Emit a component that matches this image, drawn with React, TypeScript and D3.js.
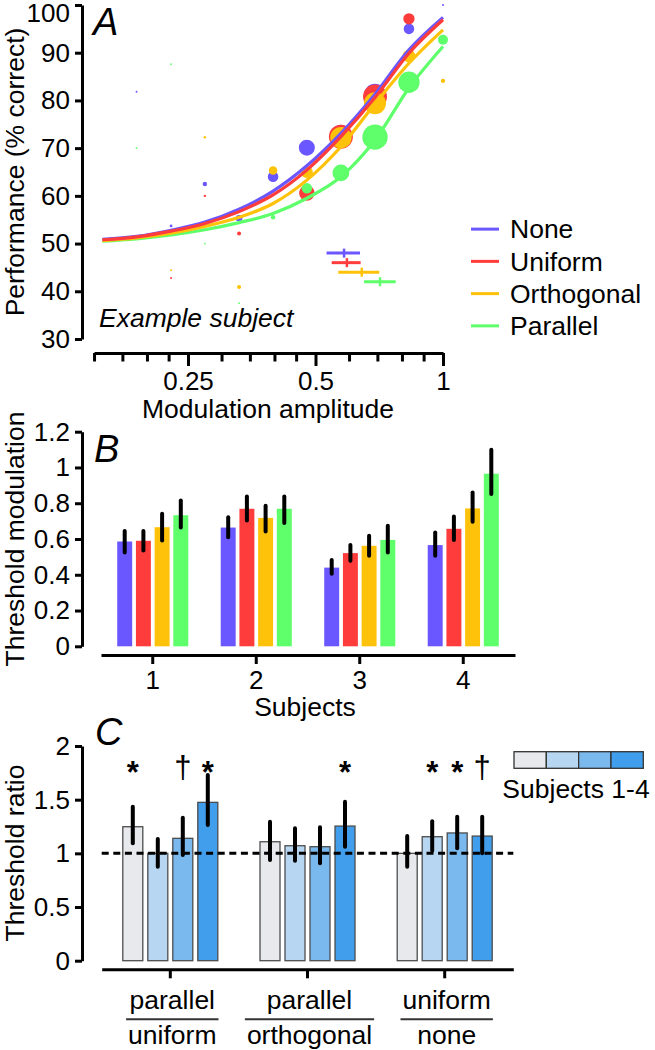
import React, { useEffect, useRef } from "react";
import * as d3 from "d3";

const FONT = "'Liberation Sans', Arial, Helvetica, sans-serif";

// ---- panel A: example subject, % correct vs modulation amplitude ----
const conditions = ["None", "Uniform", "Orthogonal", "Parallel"];
const condColors = ["#6b57ff", "#ff3c3c", "#ffc20a", "#5eff6a"];

const amplitudes = [0.189, 0.228, 0.274, 0.33, 0.397, 0.477, 0.574, 0.691, 0.831, 1.0];
const pctNone = [81.8, 53.7, 62.5, 55.3, 64.0, 70.1, 72.8, 81.2, 95.0, 100];
const pctUniform = [null, 42.8, 60.0, 52.1, null, 60.6, 72.4, 80.8, 97.1, null];
const pctOrthogonal = [null, 44.4, 72.3, 40.9, 65.3, 65.0, 72.2, 79.4, 89.3, 84.1];
const pctParallel = [70.0, 87.6, 50.0, 37.5, 55.5, 61.6, 64.8, 72.3, 83.8, 92.7];
// trials per level (circle area)
const trialsNone = [1, 2, 5, 11, 28, 64, 100, 121, 28, 1];
const trialsUniform = [0, 1, 1.5, 4, 0, 60, 144, 144, 32, 0];
const trialsOrthogonal = [0, 1, 1.5, 4, 18, 36, 114, 121, 40, 5];
const trialsParallel = [0.6, 0.6, 0.4, 0.5, 5, 28, 70, 160, 114, 25];

// fitted psychometric functions
const fitAmps = [0.157, 0.189, 0.228, 0.274, 0.33, 0.397, 0.477, 0.574, 0.691, 0.831, 1.0];
const fitNone = [50.9, 51.5, 52.8, 54.5, 57.2, 61.0, 66.3, 73.1, 81.3, 90.6, 97.4];
const fitUniform = [50.8, 51.4, 52.6, 54.2, 56.7, 60.2, 65.4, 72.4, 80.6, 89.9, 96.9];
const fitOrthogonal = [50.6, 51.2, 52.2, 53.6, 55.5, 58.4, 63.3, 70.3, 79.3, 87.8, 94.8];
const fitParallel = [50.5, 51.0, 51.8, 52.9, 54.4, 56.3, 59.5, 64.0, 71.7, 82.6, 91.3];

// threshold estimates with CI (drawn at a fixed % level)
const thrLevel = [48, 46, 44, 42];
const thrMid = [0.584, 0.593, 0.643, 0.71];
const thrLo = [0.531, 0.546, 0.566, 0.651];
const thrHi = [0.637, 0.639, 0.707, 0.773];

const xTicksA = [0.15, 0.175, 0.2, 0.225, 0.25, 0.3, 0.35, 0.4, 0.45, 0.5, 0.6, 0.7, 0.8, 0.9, 1];
const xLabelsA = [0.25, 0.5, 1];
const yTicksA = [30, 40, 50, 60, 70, 80, 90, 100];

// ---- panel B: threshold modulation per subject ----
const subjects = ["1", "2", "3", "4"];
const threshNone = [0.586, 0.664, 0.44, 0.566];
const threshUniform = [0.59, 0.769, 0.521, 0.657];
const threshOrthogonal = [0.666, 0.718, 0.562, 0.771];
const threshParallel = [0.733, 0.769, 0.595, 0.965];
const ciNone = [[0.524, 0.645], [0.61, 0.722], [0.405, 0.483], [0.506, 0.636]];
const ciUniform = [[0.535, 0.645], [0.703, 0.838], [0.479, 0.567], [0.595, 0.726]];
const ciOrthogonal = [[0.591, 0.741], [0.642, 0.786], [0.506, 0.618], [0.696, 0.86]];
const ciParallel = [[0.664, 0.815], [0.689, 0.838], [0.524, 0.674], [0.851, 1.099]];
const yTicksB = [0, 0.2, 0.4, 0.6, 0.8, 1, 1.2];

// ---- panel C: threshold ratios ----
const ratioNames = ["parallel/uniform", "parallel/orthogonal", "uniform/none"];
const subjectColors = ["#e8e9ec", "#b7d6f2", "#7ab9ee", "#419eec"];
const ratioS1 = [1.248, 1.108, 1.0];
const ratioS2 = [1.0, 1.071, 1.155];
const ratioS3 = [1.14, 1.062, 1.19];
const ratioS4 = [1.475, 1.254, 1.161];
const ratioCiS1 = [[1.093, 1.434], [0.938, 1.294], [0.875, 1.161]];
const ratioCiS2 = [[0.875, 1.133], [0.931, 1.233], [1.024, 1.3]];
const ratioCiS3 = [[0.984, 1.331], [0.907, 1.242], [1.047, 1.341]];
const ratioCiS4 = [[1.264, 1.729], [1.062, 1.48], [1.0, 1.341]];
const signifS1 = ["*", "", ""];
const signifS2 = ["", "", "*"];
const signifS3 = ["\u2020", "", "*"];
const signifS4 = ["*", "*", "\u2020"];
const yTicksC = [0, 0.5, 1, 1.5, 2];

export default function App() {
  const ref = useRef<SVGSVGElement>(null);

  useEffect(() => {
    const svg = d3.select(ref.current);
    svg.selectAll("*").remove();
    svg.attr("font-family", FONT);

    const styleAxis = (g: any) => {
      g.attr("font-family", FONT).attr("font-size", 26);
      g.select(".domain").attr("stroke", "#000").attr("stroke-width", 3);
      g.selectAll(".tick line").attr("stroke", "#000").attr("stroke-width", 3);
      g.selectAll(".tick text").attr("fill", "#000");
    };
    const yTitle = (text: string, cy: number) =>
      svg.append("text").attr("transform", `translate(23.5,${cy}) rotate(-90)`)
        .attr("text-anchor", "middle").attr("font-size", 26.5).text(text);
    const panelLetter = (text: string, x: number, y: number) =>
      svg.append("text").attr("x", x).attr("y", y).attr("font-size", 38)
        .attr("font-style", "italic").text(text);

    // ================= Panel A =================
    const pctByCond = [pctNone, pctUniform, pctOrthogonal, pctParallel];
    const trialsByCond = [trialsNone, trialsUniform, trialsOrthogonal, trialsParallel];
    const fitByCond = [fitNone, fitUniform, fitOrthogonal, fitParallel];

    const xA = d3.scaleLog().domain([0.25, 1]).range([188, 443]);
    const xAxisA = xA.copy().domain([0.15, 1]).range([xA(0.15), xA(1)]);
    const yA = d3.scaleLinear().domain([30, 100]).range([339, 5]);
    const rA = d3.scaleSqrt().domain([0, 100]).range([0, 10]);

    const gYA = svg.append("g").attr("transform", "translate(82,0)")
      .call(d3.axisLeft(yA).tickValues(yTicksA).tickSize(7).tickSizeOuter(0).tickPadding(5));
    styleAxis(gYA);
    gYA.selectAll(".tick text").attr("y", (d: any) => (d === 100 ? 8 : 0));

    const gXA = svg.append("g").attr("transform", "translate(0,353)")
      .call(d3.axisBottom(xAxisA).tickValues(xTicksA).tickSize(13).tickSizeOuter(0).tickPadding(5.5)
        .tickFormat((d: any) => (xLabelsA.includes(d) ? String(d) : "")));
    styleAxis(gXA);
    gXA.selectAll(".tick line").attr("y2", (d: any) => (xLabelsA.includes(d) ? 13 : 8.5));

    svg.append("text").attr("x", 268).attr("y", 418).attr("text-anchor", "middle")
      .attr("font-size", 26.5).text("Modulation amplitude");
    yTitle("Performance (% correct)", 172);
    panelLetter("A", 93, 35);
    svg.append("text").attr("x", 99).attr("y", 327).attr("font-size", 26.5)
      .attr("font-style", "italic").text("Example subject");

    const gPts = svg.append("g");
    conditions.forEach((c, ci) => {
      const pts = amplitudes
        .map((a, i) => ({ a, p: pctByCond[ci][i], n: trialsByCond[ci][i] }))
        .filter((d) => d.p != null && d.n > 0);
      gPts.selectAll(null).data(pts).join("circle")
        .attr("cx", (d) => xA(d.a))
        .attr("cy", (d) => yA(d.p as number))
        .attr("r", (d) => Math.max(rA(d.n), 0.9))
        .attr("fill", condColors[ci]);
    });

    const line = d3.line<number>()
      .x((d, i) => xA(fitAmps[i]))
      .y((d) => yA(d))
      .curve(d3.curveMonotoneX);
    [3, 2, 0, 1].forEach((ci) => {
      svg.append("path").attr("d", line(fitByCond[ci]))
        .attr("fill", "none").attr("stroke", condColors[ci]).attr("stroke-width", 3.2);
    });

    // threshold bars
    const gThr = svg.append("g");
    conditions.forEach((c, ci) => {
      const y = yA(thrLevel[ci]);
      gThr.append("line").attr("x1", xA(thrLo[ci])).attr("x2", xA(thrHi[ci]))
        .attr("y1", y).attr("y2", y).attr("stroke", condColors[ci]).attr("stroke-width", 3);
      gThr.append("line").attr("x1", xA(thrMid[ci])).attr("x2", xA(thrMid[ci]))
        .attr("y1", y - 4.5).attr("y2", y + 4.5).attr("stroke", condColors[ci]).attr("stroke-width", 2.5);
    });

    // legend
    const legY = d3.scaleBand().domain(conditions).range([213, 342]);
    conditions.forEach((c, ci) => {
      const y = (legY(c) as number) + legY.bandwidth() / 2;
      svg.append("line").attr("x1", 471).attr("x2", 499).attr("y1", y).attr("y2", y)
        .attr("stroke", condColors[ci]).attr("stroke-width", 3);
      svg.append("text").attr("x", 510).attr("y", y).attr("dy", "0.35em")
        .attr("font-size", 26.5).text(c);
    });

    // ================= Panel B =================
    const threshByCond = [threshNone, threshUniform, threshOrthogonal, threshParallel];
    const ciByCond = [ciNone, ciUniform, ciOrthogonal, ciParallel];
    const xB = d3.scaleBand().domain(subjects).range([101, 515]);
    const innerB = d3.scaleBand().domain(conditions).range([0, 74.8]).paddingInner(0.2).paddingOuter(0.1);
    const yB = d3.scaleLinear().domain([0, 1.2]).range([646.3, 431.7]);

    const gYB = svg.append("g").attr("transform", "translate(82,0)")
      .call(d3.axisLeft(yB).tickValues(yTicksB).tickSize(7).tickSizeOuter(0).tickPadding(5)
        .tickFormat((d: any) => String(d)));
    styleAxis(gYB);
    const gXB = svg.append("g").attr("transform", "translate(0,655)")
      .call(d3.axisBottom(xB).tickSize(9).tickSizeOuter(0).tickPadding(6.5));
    styleAxis(gXB);

    subjects.forEach((s, si) => {
      const x0 = (xB(s) as number) + (xB.bandwidth() - 74.8) / 2;
      conditions.forEach((c, ci) => {
        const x = x0 + (innerB(c) as number);
        const v = threshByCond[ci][si];
        svg.append("rect").attr("x", x).attr("width", innerB.bandwidth())
          .attr("y", yB(v)).attr("height", yB(0) - yB(v)).attr("fill", condColors[ci]);
        const [lo, hi] = ciByCond[ci][si];
        svg.append("line").attr("x1", x + innerB.bandwidth() / 2).attr("x2", x + innerB.bandwidth() / 2)
          .attr("y1", yB(lo)).attr("y2", yB(hi)).attr("stroke", "#000").attr("stroke-width", 4)
          .attr("stroke-linecap", "round");
      });
    });
    svg.append("text").attr("x", 305).attr("y", 715.5).attr("text-anchor", "middle")
      .attr("font-size", 26.5).text("Subjects");
    yTitle("Threshold modulation", 539);
    panelLetter("B", 94, 461.5);

    // ================= Panel C =================
    const ratiosBySubj = [ratioS1, ratioS2, ratioS3, ratioS4];
    const ratioCiBySubj = [ratioCiS1, ratioCiS2, ratioCiS3, ratioCiS4];
    const signifBySubj = [signifS1, signifS2, signifS3, signifS4];
    const xC = d3.scaleBand().domain(ratioNames).range([101.7, 513.3]);
    const innerC = d3.scaleBand().domain(subjects).range([0, 100]).paddingInner(0.2).paddingOuter(0.1);
    const yC = d3.scaleLinear().domain([0, 2]).range([960.7, 746]);

    const gYC = svg.append("g").attr("transform", "translate(82,0)")
      .call(d3.axisLeft(yC).tickValues(yTicksC).tickSize(7).tickSizeOuter(0).tickPadding(5)
        .tickFormat((d: any) => String(d)));
    styleAxis(gYC);
    const gXC = svg.append("g").attr("transform", "translate(0,969.3)")
      .call(d3.axisBottom(xC).tickSize(9).tickSizeOuter(0).tickFormat(() => ""));
    styleAxis(gXC);

    ratioNames.forEach((r, gi) => {
      const x0 = (xC(r) as number) + (xC.bandwidth() - 100) / 2;
      subjects.forEach((s, si) => {
        const x = x0 + (innerC(s) as number);
        const v = ratiosBySubj[si][gi];
        svg.append("rect").attr("x", x).attr("width", innerC.bandwidth())
          .attr("y", yC(v)).attr("height", yC(0) - yC(v)).attr("fill", subjectColors[si])
          .attr("stroke", "#4d4d4d").attr("stroke-width", 1.3);
      });
    });
    // reference line at ratio 1
    svg.append("line").attr("x1", 101.7).attr("x2", 513.3).attr("y1", yC(1)).attr("y2", yC(1))
      .attr("stroke", "#000").attr("stroke-width", 3).attr("stroke-dasharray", "7,4.6");
    ratioNames.forEach((r, gi) => {
      const x0 = (xC(r) as number) + (xC.bandwidth() - 100) / 2;
      subjects.forEach((s, si) => {
        const xm = x0 + (innerC(s) as number) + innerC.bandwidth() / 2;
        const [lo, hi] = ratioCiBySubj[si][gi];
        svg.append("line").attr("x1", xm).attr("x2", xm).attr("y1", yC(lo)).attr("y2", yC(hi))
          .attr("stroke", "#000").attr("stroke-width", 4).attr("stroke-linecap", "round");
        const mark = signifBySubj[si][gi];
        if (mark === "*") {
          svg.append("text").attr("x", xm).attr("y", 783)
            .attr("text-anchor", "middle").attr("font-size", 31).attr("font-weight", "bold").text(mark);
        } else if (mark) {
          svg.append("text").attr("x", xm).attr("y", 778)
            .attr("text-anchor", "middle").attr("font-size", 31).text(mark);
        }
      });
      // fraction labels
      const cx = (xC(r) as number) + xC.bandwidth() / 2 + 2;
      const [num, den] = r.split("/");
      const t1 = svg.append("text").attr("x", cx).attr("y", 1009).attr("text-anchor", "middle")
        .attr("font-size", 26.5).text(num);
      const t2 = svg.append("text").attr("x", cx).attr("y", 1044).attr("text-anchor", "middle")
        .attr("font-size", 26.5).text(den);
      const w = Math.max(
        (t1.node() as SVGTextElement).getComputedTextLength(),
        (t2.node() as SVGTextElement).getComputedTextLength()
      ) + 4;
      svg.append("line").attr("x1", cx - w / 2).attr("x2", cx + w / 2).attr("y1", 1019.3).attr("y2", 1019.3)
        .attr("stroke", "#333").attr("stroke-width", 2);
    });
    yTitle("Threshold ratio", 853);
    panelLetter("C", 95, 745);

    // subject legend
    const legX = d3.scaleBand().domain(subjects).range([514, 643.3]);
    subjects.forEach((s, si) => {
      svg.append("rect").attr("x", legX(s) as number).attr("y", 751.7)
        .attr("width", legX.bandwidth()).attr("height", 16.6)
        .attr("fill", subjectColors[si]).attr("stroke", "#333").attr("stroke-width", 1.3);
    });
    svg.append("text").attr("x", 576).attr("y", 798).attr("text-anchor", "middle")
      .attr("font-size", 26.5).text("Subjects 1-4");
  }, []);

  return (
    <svg ref={ref} width={655} height={1050}
      style={{ position: "absolute", left: 0, top: 0, background: "#fff" }} />
  );
}
